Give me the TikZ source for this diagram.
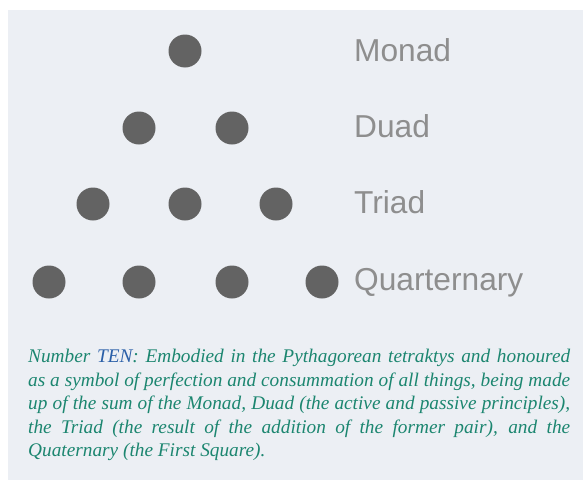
\documentclass[tikz,border=0pt]{standalone}
\usepackage{fontspec}
\setmainfont{Liberation Serif}
\newfontfamily\labelfont{Liberation Sans}
\definecolor{bg}{HTML}{ECEFF4}
\definecolor{dotgray}{HTML}{636363}
\definecolor{lblgray}{HTML}{8E8E8E}
\definecolor{teal}{HTML}{1C8670}
\definecolor{tenblue}{HTML}{2A5FA8}
\begin{document}
\begin{tikzpicture}[x=1pt,y=-1pt,
  dot/.style={circle,fill=dotgray,minimum size=33pt,inner sep=0pt},
  lbl/.style={anchor=base west,inner sep=0pt,font=\labelfont\fontsize{31.7}{31.7}\selectfont,text=lblgray},
  desc/.style={anchor=north west,inner sep=0pt,text width=542pt,align=justify,text=teal,
    font=\itshape\fontsize{19.3}{23.5}\selectfont}]
\useasboundingbox (0,0) rectangle (583,482);
\fill[bg] (8,10) rectangle (583,480);
% Monad
\node[dot] (m1) at (185,51) {};
% Duad
\node[dot] (d1) at (139,128) {};
\node[dot] (d2) at (232,128) {};
% Triad
\node[dot] (t1) at (93,204) {};
\node[dot] (t2) at (185,204) {};
\node[dot] (t3) at (276,204) {};
% Quaternary
\node[dot] (q1) at (49,282) {};
\node[dot] (q2) at (139,282) {};
\node[dot] (q3) at (232,282) {};
\node[dot] (q4) at (322,282) {};
% labels
\node[lbl] (lm) at (354,61.7) {Monad};
\node[lbl] (ld) at (354,137) {Duad};
\node[lbl] (lt) at (354,213) {Triad};
\node[lbl] (lq) at (354,290) {Quarternary};
% description
\node[desc] (txt) at (28,349) {Number \textcolor{tenblue}{TEN}: Embodied in the Pythagorean tetraktys and honoured\linebreak
as a symbol of perfection and consummation of all things, being made\linebreak
up of the sum of the Monad, Duad (the active and passive principles),\linebreak
the Triad (the result of the addition of the former pair), and the\linebreak
Quaternary (the First Square).};
\end{tikzpicture}
\end{document}
